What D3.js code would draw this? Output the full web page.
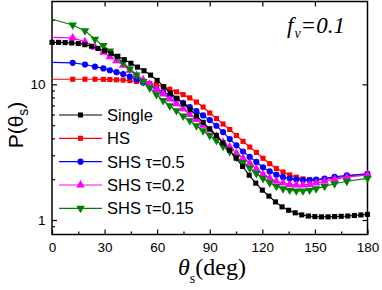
<!DOCTYPE html>
<html>
<head>
<meta charset="utf-8">
<script src="https://cdn.jsdelivr.net/npm/d3@7"></script>
<style>
  body { margin: 0; background: #fff; }
  svg { display: block; }
</style>
</head>
<body>
<svg id="chart" width="382" height="290"></svg>
<script>
// angles (deg) of the Single curve
const angSingle = [0, 3.75, 7.5, 11.25, 15, 18.75, 22.5, 26.25, 30, 33.75, 37.5, 41.25, 45, 48.75, 52.5, 56.25, 60,
  63.75, 67.5, 71.25, 75, 78.75, 82.5, 86.25, 90, 93.75, 97.5, 101.25, 105, 108.75, 112.5, 116.25, 120, 123.75,
  127.5, 131.25, 135, 138.75, 142.5, 146.25, 150, 153.75, 157.5, 161.25, 165, 168.75, 172.5, 176.25, 180];
const single = [20.4, 20.4, 20.3, 20.2, 20.0, 19.6, 19.1, 18.4, 17.7, 16.9, 16.1, 15.2, 14.3, 13.4, 12.6, 11.7, 10.7,
  9.6, 8.6, 7.9, 7.2, 6.5, 5.85, 5.25, 4.7, 4.2, 3.7, 3.27, 2.86, 2.48, 2.14, 1.87, 1.66, 1.5,
  1.36, 1.25, 1.18, 1.13, 1.09, 1.07, 1.06, 1.055, 1.055, 1.06, 1.065, 1.07, 1.08, 1.09, 1.1];

// angles (deg) of the HS / SHS curves
const angShs = [0, 11.8, 18.8, 24.5, 29.3, 33, 36.8, 40.6, 44.4, 48.2, 52, 55.8, 59.6, 63.4, 67.2, 71, 74.8, 78.6,
  82.4, 86.2, 90, 93.8, 97.6, 101.4, 105.2, 109, 112.8, 116.6, 120.4, 124.2, 128, 131.8, 135.6, 139.4, 143.2, 147,
  150.7, 155.5, 161.2, 168.2, 180];
const hs = [10.9, 10.9, 10.9, 10.9, 10.88, 10.85, 10.8, 10.75, 10.65, 10.5, 10.35, 10.15, 9.95, 9.6, 9.2, 8.8, 8.4, 7.95,
  7.4, 6.8, 6.15, 5.6, 5.1, 4.65, 4.2, 3.8, 3.45, 3.15, 2.85, 2.6, 2.4, 2.26, 2.15, 2.07, 2.01, 1.98,
  1.97, 1.99, 2.04, 2.1, 2.2];
const shs05 = [14.5, 14.4, 14.0, 13.5, 13.1, 12.7, 12.3, 11.9, 11.4, 10.9, 10.3, 9.75, 9.2, 8.75, 8.3, 7.8, 7.3, 6.8,
  6.35, 5.9, 5.45, 4.95, 4.45, 3.95, 3.55, 3.2, 2.92, 2.68, 2.45, 2.28, 2.16, 2.07, 2.02, 1.99, 1.97, 1.97,
  1.99, 2.02, 2.08, 2.13, 2.18];
const shs02 = [22.2, 22.0, 20.6, 18.8, 17.2, 16.0, 14.9, 13.8, 12.7, 11.7, 10.8, 10.0, 9.2, 8.5, 7.8, 7.2, 6.6, 6.0,
  5.5, 5.0, 4.6, 4.15, 3.75, 3.45, 3.1, 2.85, 2.62, 2.38, 2.18, 2.03, 1.93, 1.87, 1.83, 1.81, 1.81, 1.83,
  1.87, 1.93, 2.0, 2.07, 2.15];
const shs015 = [30.2, 27.4, 24.8, 21.5, 19.3, 17.6, 16.0, 14.5, 13.0, 11.7, 10.5, 9.4, 8.4, 7.6, 6.95, 6.4, 5.85, 5.4,
  4.95, 4.55, 4.2, 3.85, 3.5, 3.2, 2.9, 2.65, 2.42, 2.2, 2.02, 1.88, 1.77, 1.7, 1.66, 1.64, 1.64, 1.66,
  1.7, 1.77, 1.85, 1.93, 2.03];

const xTicks = [0, 30, 60, 90, 120, 150, 180];
const xMinor = [15, 45, 75, 105, 135, 165];
const yTicks = [1, 10];
const yMinor = [0.9, 2, 3, 4, 5, 6, 7, 8, 9, 20, 30];

const series = [
  { name: "HS", ang: angShs, val: hs, color: "#ff0000", shape: "square" },
  { name: "SHS \u03c4=0.5", ang: angShs, val: shs05, color: "#0000ff", shape: "circle" },
  { name: "SHS \u03c4=0.2", ang: angShs, val: shs02, color: "#ff00ff", shape: "up" },
  { name: "SHS \u03c4=0.15", ang: angShs, val: shs015, color: "#008000", shape: "down" },
  { name: "Single", ang: angSingle, val: single, color: "#000000", shape: "square" }
];
const legendOrder = ["Single", "HS", "SHS \u03c4=0.5", "SHS \u03c4=0.2", "SHS \u03c4=0.15"];

const svg = d3.select("#chart");
const L = 52, R = 367.5, T = 1.5, B = 234.5;

const x = d3.scaleLinear().domain([0, 180]).range([L, R]);
const y = d3.scaleLog().domain([0.782, 40.8]).range([B, T]);

const sans = "'Liberation Sans', Arial, sans-serif";
const serif = "'Liberation Serif', 'Times New Roman', serif";

// 座標軸
function styleAxis(g) {
  g.select(".domain").remove();
  g.selectAll("line").attr("stroke", "#000").attr("stroke-width", 1.2);
  g.selectAll("text").attr("font-family", sans).attr("font-size", 13.5).attr("fill", "#000");
}

svg.append("g").attr("transform", `translate(0,${B})`)
  .call(d3.axisBottom(x).tickValues(xTicks).tickSize(-5).tickPadding(7.5).tickFormat(d3.format("d")))
  .call(styleAxis);
svg.append("g").attr("transform", `translate(0,${B})`)
  .call(d3.axisBottom(x).tickValues(xMinor).tickSize(-3).tickFormat(""))
  .call(styleAxis);
svg.append("g").attr("transform", `translate(0,${T})`)
  .call(d3.axisTop(x).tickValues(xTicks.slice(1, -1)).tickSize(-5).tickFormat(""))
  .call(styleAxis);
svg.append("g").attr("transform", `translate(${L},0)`)
  .call(d3.axisLeft(y).tickValues(yTicks).tickSize(-5).tickPadding(6.5).tickFormat(d3.format("d")))
  .call(styleAxis);
svg.append("g").attr("transform", `translate(${L},0)`)
  .call(d3.axisLeft(y).tickValues(yMinor).tickSize(-3).tickFormat(""))
  .call(styleAxis);
svg.append("g").attr("transform", `translate(${R},0)`)
  .call(d3.axisRight(y).tickValues(yTicks).tickSize(-5).tickFormat(""))
  .call(styleAxis);

svg.append("rect")
  .attr("x", L).attr("y", T).attr("width", R - L).attr("height", B - T)
  .attr("fill", "none").attr("stroke", "#000").attr("stroke-width", 1.5);

// 標記
function symbolFor(shape) {
  if (shape === "circle") return d3.symbol(d3.symbolCircle, 30)();
  if (shape === "square") return d3.symbol(d3.symbolSquare, 26)();
  return d3.symbol(d3.symbolTriangle, 32)();
}
function addMarker(g, s, px, py) {
  g.append("path")
    .attr("d", symbolFor(s.shape))
    .attr("transform", `translate(${px},${py})` + (s.shape === "down" ? " rotate(180)" : ""))
    .attr("fill", s.color);
}

const line = d3.line().x(d => x(d[0])).y(d => y(d[1]));

series.forEach(s => {
  const pts = s.ang.map((a, i) => [a, s.val[i]]);
  const g = svg.append("g");
  g.append("path").datum(pts)
    .attr("d", line)
    .attr("fill", "none")
    .attr("stroke", s.color)
    .attr("stroke-width", 1.2);
  pts.forEach(p => {
    if (s.name !== "Single" && p[0] === 0) return;
    addMarker(g, s, x(p[0]), y(p[1]));
  });
});

// 圖例
const legendY = [115, 138.3, 161.7, 185, 208.3];
legendOrder.forEach((name, i) => {
  const s = series.find(d => d.name === name);
  const g = svg.append("g");
  g.append("line")
    .attr("x1", 59).attr("x2", 102).attr("y1", legendY[i]).attr("y2", legendY[i])
    .attr("stroke", s.color).attr("stroke-width", 1.2);
  addMarker(g, s, 80.5, legendY[i]);
  g.append("text")
    .attr("x", 107).attr("y", legendY[i] + 5.8)
    .attr("font-family", sans).attr("font-size", 16.5)
    .text(name);
});

// 軸標題
const yl = svg.append("text")
  .attr("transform", "translate(23,125) rotate(-90)")
  .attr("text-anchor", "middle")
  .attr("font-family", sans).attr("font-size", 21);
yl.append("tspan").text("P(\u03b8");
yl.append("tspan").attr("font-size", 14).attr("dy", 5).text("s");
yl.append("tspan").attr("dy", -5).text(")");

const xl = svg.append("text")
  .attr("x", 178).attr("y", 275)
  .attr("font-family", serif).attr("font-size", 24);
xl.append("tspan").attr("font-style", "italic").text("\u03b8");
xl.append("tspan").attr("font-size", 14).attr("dy", 8).text("s");
xl.append("tspan").attr("dy", -8).text("(deg)");

const fv = svg.append("text")
  .attr("x", 287).attr("y", 32.5)
  .attr("font-family", serif).attr("font-style", "italic").attr("font-size", 23);
fv.append("tspan").text("f");
fv.append("tspan").attr("font-size", 14).attr("dy", 5).attr("dx", 1).text("v");
fv.append("tspan").attr("dy", -5).text("=0.1");
</script>
</body>
</html>
